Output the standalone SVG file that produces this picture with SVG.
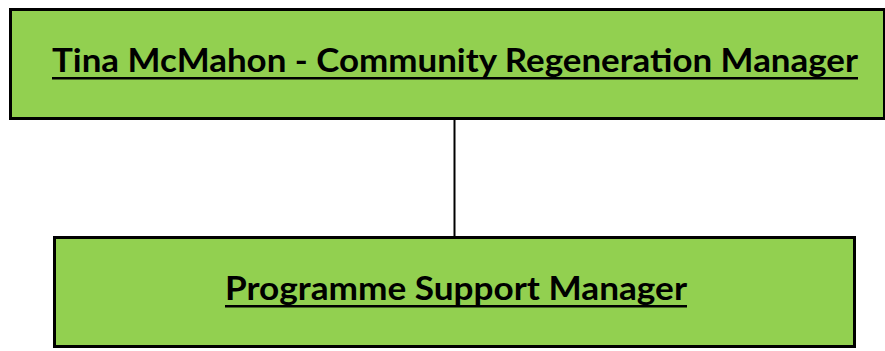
<svg xmlns="http://www.w3.org/2000/svg" width="885" height="351" viewBox="0 0 885 351">
<style>
.box{fill:#92D050;stroke:#000;stroke-width:3}
.lbl{font-family:Lato,"Open Sans","Liberation Sans",sans-serif;font-weight:bold;font-size:33px;fill:#000}
.ul{fill:#000}
.conn{stroke:#000;stroke-width:2;fill:none}
</style>
<g id="connectors">
<line class="conn" x1="454.5" y1="119" x2="454.5" y2="237"/>
</g>
<g id="node-manager">
<rect class="box" x="10.5" y="9.5" width="874" height="109"/>
<text class="lbl" x="52" y="72" textLength="806" lengthAdjust="spacingAndGlyphs">Tina McMahon - Community Regeneration Manager</text>
<rect class="ul" x="52" y="77" width="806" height="2.5"/>
</g>
<g id="node-support">
<rect class="box" x="54.5" y="237.5" width="800" height="109"/>
<text class="lbl" x="225" y="300" textLength="462" lengthAdjust="spacingAndGlyphs">Programme Support Manager</text>
<rect class="ul" x="225" y="305" width="462" height="2.5"/>
</g>
</svg>
